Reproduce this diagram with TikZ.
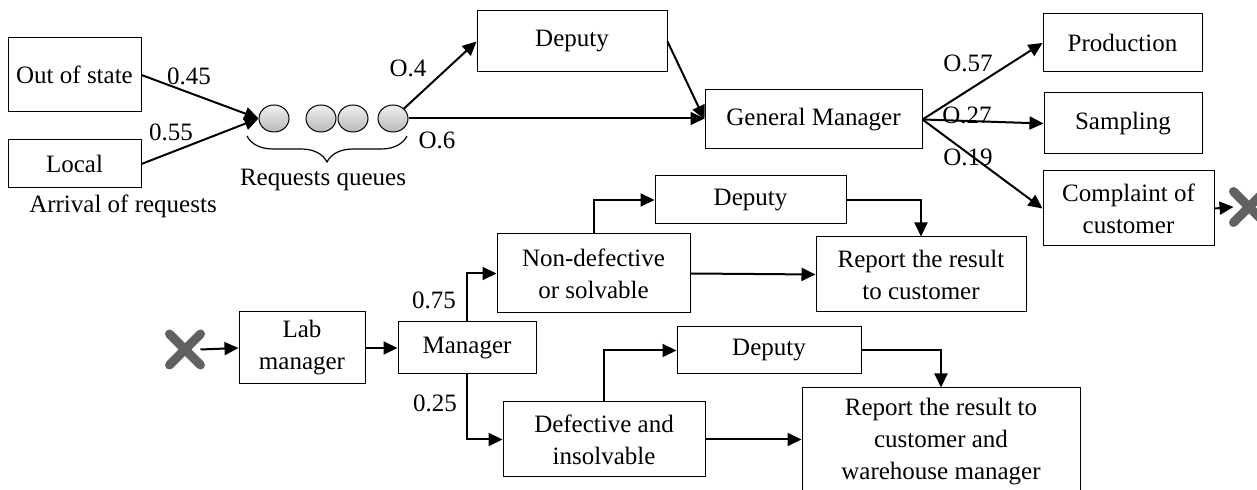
\documentclass[tikz,border=0pt]{standalone}
\usepackage{fontspec}
\setmainfont{Liberation Serif}
\usetikzlibrary{arrows.meta,shapes.geometric,shapes.misc,decorations.pathreplacing}
\begin{document}
\begin{tikzpicture}[x=0.5pt,y=-0.5pt,
  every node/.style={font=\fontsize{12.5pt}{16pt}\selectfont},
  box/.style={draw, line width=0.5pt, inner sep=0pt, align=center},
  queue/.style={ellipse, draw, line width=0.5pt, inner sep=0pt,
    minimum width=15pt, minimum height=13.5pt,
    top color=gray!12, bottom color=gray!55},
  xmark/.style={cross out, draw=black!62, line width=4.5pt, line cap=round,
    inner sep=0pt, minimum size=11pt},
  flow/.style={line width=1pt, -{Triangle[length=7pt,width=6.5pt]}},
  prob/.style={inner sep=0pt}]

\useasboundingbox (0,0) rectangle (1257,490);
\clip (0,0) rectangle (1257,490);

% arrivals
\node[box, minimum width=66.5pt, minimum height=37pt] (os) at (74.5,75) {Out of state};
\node[box, minimum width=66.5pt, minimum height=24pt] (loc) at (74.5,164) {Local};
\node (arr) at (123,206) {Arrival of requests};

% queue
\node[queue] (c1) at (274,118.5) {};
\node[queue] (c2) at (321,118.5) {};
\node[queue] (c3) at (353,118.5) {};
\node[queue] (c4) at (393,118.5) {};
\draw[line width=0.6pt, decorate, decoration={brace, mirror, amplitude=13pt}]
  (247,136) -- (407,136);
\node (rq) at (323,180) {Requests queues};

% upper stage
\node[box, minimum width=95pt, minimum height=30.5pt] (dep1) at (572,41.5) {Deputy};
\node[box, minimum width=108.5pt, minimum height=29.5pt] (gm) at (813.5,119.5) {General Manager};
\node[box, minimum width=79.5pt, minimum height=29pt] (prod) at (1122.5,43) {Production};
\node[box, minimum width=79pt, minimum height=30.5pt] (samp) at (1123,123.5) {Sampling};
\node[box, minimum width=85.5pt, minimum height=37.5pt] (comp) at (1128.5,208.5) {Complaint of\\customer};
\node[xmark] (x1) at (1249,207) {};

% lower stage
\node[xmark] (x2) at (185,349.5) {};
\node[box, minimum width=63pt, minimum height=36pt] (lab) at (302,348) {Lab\\manager};
\node[box, minimum width=69pt, minimum height=26pt] (man) at (467,348) {Manager};
\node[box, minimum width=96.5pt, minimum height=39.5pt] (nd) at (593.5,273.5) {Non-defective\\or solvable};
\node[box, minimum width=95.5pt, minimum height=24pt] (dep2) at (750.5,200) {Deputy};
\node[box, minimum width=105pt, minimum height=37.5pt] (rep1) at (921,274.5) {Report the result\\to customer};
\node[box, minimum width=101pt, minimum height=37.5pt] (def) at (604,439.5) {Defective and\\insolvable};
\node[box, minimum width=92pt, minimum height=23.5pt] (dep3) at (769,350.5) {Deputy};
\node[box, minimum width=139pt, minimum height=53.5pt] (rep2) at (941,441.5) {Report the result to\\customer and\\warehouse manager};

% connectors
\draw[flow] (os.east) -- (c1.west);
\draw[flow] (loc.east) -- (c1.west);
\draw[flow] (c4.north east) -- (dep1.west);
\draw[flow] (c4.east) -- (c4.east -| gm.west);
\draw[flow] (dep1.east) -- (gm.west);
\draw[flow] (gm.east) -- (prod.west);
\draw[flow] (gm.east) -- (samp.west);
\draw[flow] (gm.east) -- (comp.west);
\draw[flow] (comp.east) -- (x1.west);

\draw[flow] (x2.east) -- (lab.west);
\draw[flow] (lab.east) -- (man.west);
\draw[flow] (man.north) |- (nd.west);
\draw[flow] (man.south) |- (def.west);
\draw[flow] (nd.north) |- (dep2.west);
\draw[flow] (dep2.east) -| (rep1.north);
\draw[flow] (nd.east) -- (rep1.west);
\draw[flow] (def.north) |- (dep3.west);
\draw[flow] (dep3.east) -| (rep2.north);
\draw[flow] (def.east) -- (def.east -| rep2.west);

% branch probabilities
\node[prob] (p1) at (189,76) {0.45};
\node[prob] (p2) at (171,132) {0.55};
\node[prob] (p3) at (408,68) {O.4};
\node[prob] (p4) at (437,140) {O.6};
\node[prob] (p5) at (968,63) {O.57};
\node[prob] (p6) at (967,115) {O.27};
\node[prob] (p7) at (968,157) {O.19};
\node[prob] (p8) at (434,300) {0.75};
\node[prob] (p9) at (435,403) {0.25};
\end{tikzpicture}
\end{document}
